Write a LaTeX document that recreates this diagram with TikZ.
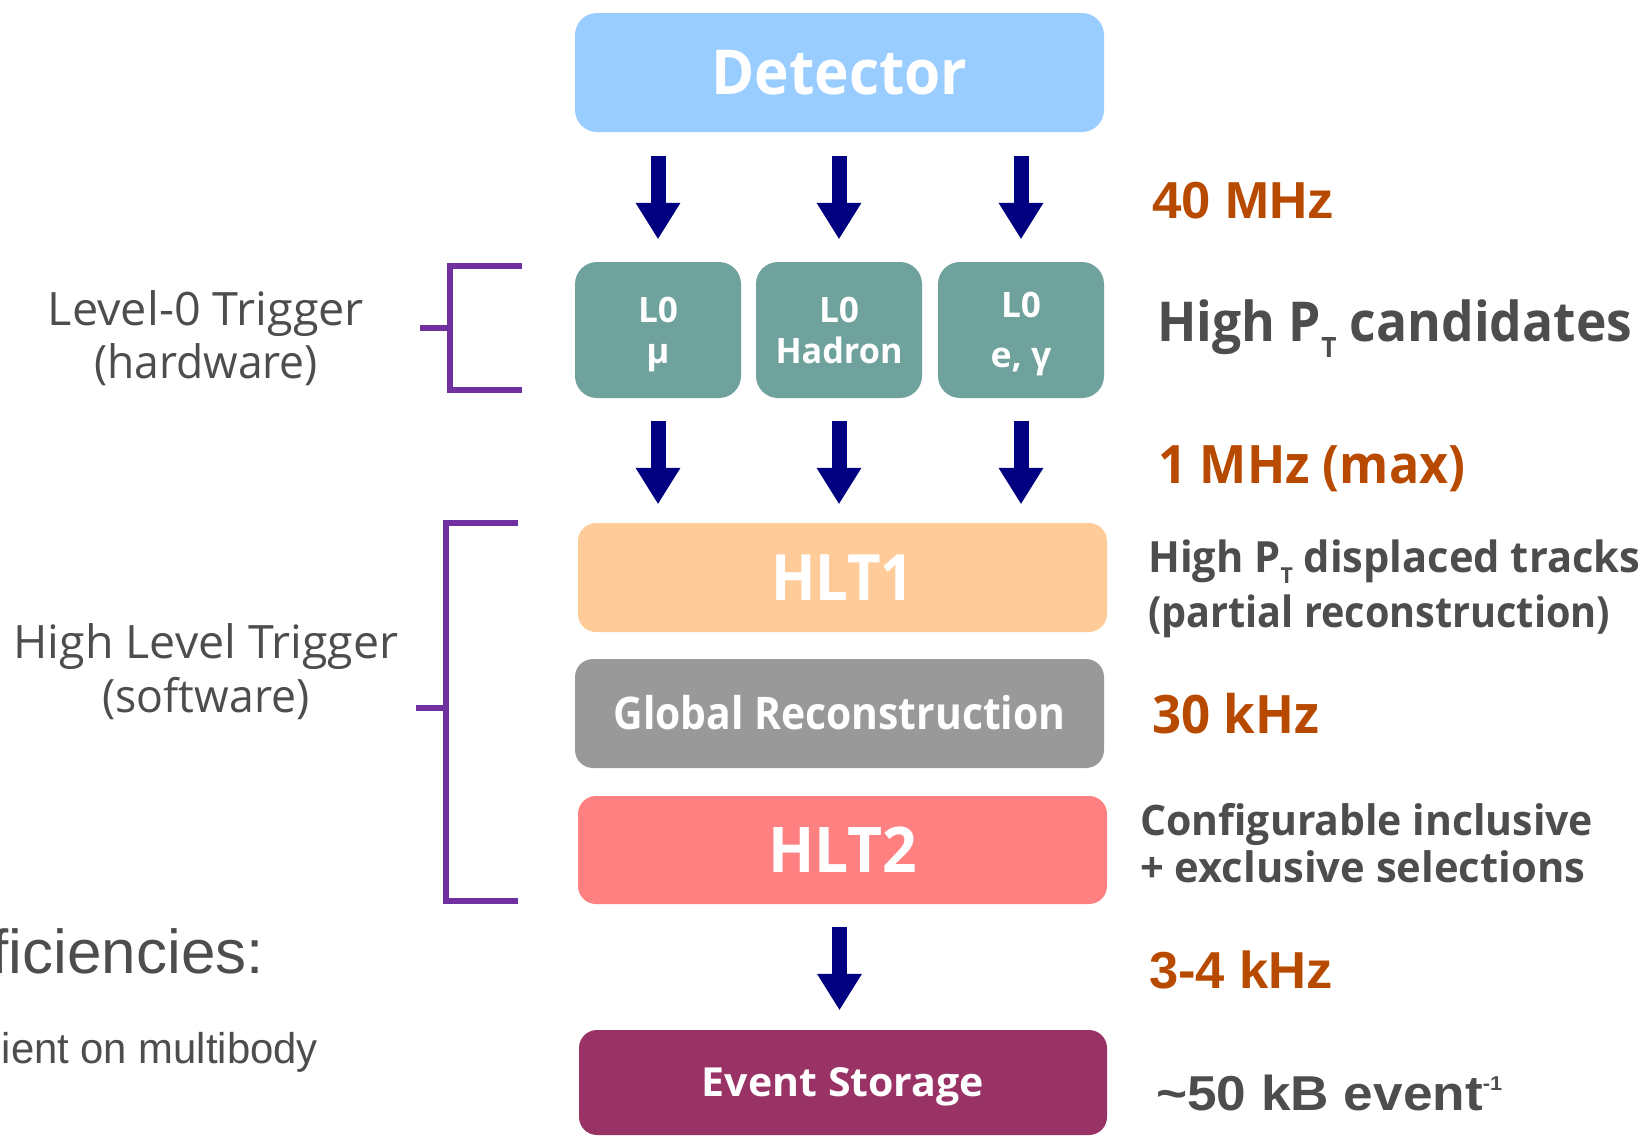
\documentclass[tikz,border=0pt]{standalone}
\usepackage{graphicx}
\usepackage{fontspec}
\setmainfont{Open Sans}
\newfontfamily\arialf{Liberation Sans}
\usetikzlibrary{arrows.meta}
\definecolor{detblue}{RGB}{153,204,255}
\definecolor{lzteal}{RGB}{111,162,156}
\definecolor{hltorange}{RGB}{255,204,153}
\definecolor{grgray}{RGB}{153,153,153}
\definecolor{hltred}{RGB}{255,128,128}
\definecolor{storeplum}{RGB}{153,51,102}
\definecolor{navyarrow}{RGB}{0,0,128}
\definecolor{brpurple}{RGB}{112,48,160}
\definecolor{rateorange}{RGB}{184,74,0}
\definecolor{txtgray}{RGB}{77,77,77}
\newcommand{\fsz}[1]{\fontsize{#1}{#1}\selectfont}
\newcommand{\fitw}[2]{\resizebox{#1}{\height}{#2}}
\begin{document}
\begin{tikzpicture}[x=1pt,y=-1pt,
  box/.style={rounded corners=20pt, text=white, inner sep=0pt, text depth=0pt, align=center},
  bigarrow/.style={draw=navyarrow, line width=15pt, -{Triangle[length=36pt,width=45pt,line width=0pt]}},
  bracketline/.style={draw=brpurple, line width=6.5pt},
  rtext/.style={anchor=base west, inner sep=0pt, text=txtgray},
  rate/.style={anchor=base west, inner sep=0pt, text=rateorange},
  ltext/.style={anchor=base, inner sep=0pt, text=txtgray, font=\fsz{46}}
]
\useasboundingbox (0,0) rectangle (1647,1136);
\clip (0,0) rectangle (1647,1136);

% boxes
\node[box, fill=detblue, minimum width=529pt, minimum height=119pt, rounded corners=22pt, text height=44pt, font=\bfseries\fsz{62}] (det) at (839.5,72.5) {\fitw{256pt}{Detector}};
\node[box, fill=lzteal, minimum width=166pt, minimum height=136pt, rounded corners=22pt, font=\bfseries\fontsize{35}{41}\selectfont] (l0a) at (658,330) {\fitw{40pt}{L0}\\μ};
\node[box, fill=lzteal, minimum width=166pt, minimum height=136pt, rounded corners=22pt, font=\bfseries\fontsize{35}{41}\selectfont] (l0b) at (839,330) {\fitw{40pt}{L0}\\\fitw{127pt}{Hadron}};
\node[box, fill=lzteal, minimum width=166pt, minimum height=136pt, rounded corners=22pt, font=\bfseries\fontsize{35}{50}\selectfont] (l0c) at (1021,330) {\fitw{40pt}{L0}\\\fitw{61pt}{e, γ}};
\node[box, fill=hltorange, minimum width=529pt, minimum height=109pt, rounded corners=18pt, text height=46pt, font=\bfseries\fsz{64}] (hlt1) at (842.5,577.5) {\fitw{143pt}{HLT1}};
\node[box, fill=grgray, minimum width=529pt, minimum height=109pt, rounded corners=18pt, text height=32pt, font=\bfseries\fsz{45}] (glob) at (839.5,713.5) {\fitw{452pt}{Global Reconstruction}};
\node[box, fill=hltred, minimum width=529pt, minimum height=108pt, rounded corners=18pt, text height=45pt, font=\bfseries\fsz{63}] (hlt2) at (842.5,850) {\fitw{149pt}{HLT2}};
\node[box, fill=storeplum, minimum width=528pt, minimum height=105pt, rounded corners=18pt, text height=28pt, font=\bfseries\fsz{40}] (store) at (843,1082.5) {\fitw{282pt}{Event Storage}};

% arrows
\draw[bigarrow, shorten <=24pt, shorten >=23pt] (det.south -| l0a.north) -- (l0a.north);
\draw[bigarrow, shorten <=24pt, shorten >=23pt] (det.south -| l0b.north) -- (l0b.north);
\draw[bigarrow, shorten <=24pt, shorten >=23pt] (det.south -| l0c.north) -- (l0c.north);
\draw[bigarrow, shorten <=23pt, shorten >=19pt] (l0a.south) -- (l0a.south |- hlt1.north);
\draw[bigarrow, shorten <=23pt, shorten >=19pt] (l0b.south) -- (l0b.south |- hlt1.north);
\draw[bigarrow, shorten <=23pt, shorten >=19pt] (l0c.south) -- (l0c.south |- hlt1.north);
\draw[bigarrow, shorten <=23pt, shorten >=20pt] (hlt2.south -| det.south) -- (store.north -| det.south);

% brackets
\draw[bracketline] (522,266) -| (450,390) -- (522,390);
\draw[bracketline] (420,328) -- (450,328);
\draw[bracketline] (518,523) -| (446,901) -- (518,901);
\draw[bracketline] (416,708) -- (446,708);

% left labels
\node[ltext] (lzlab) at (206,325) {\fitw{316pt}{Level-0 Trigger}};
\node[ltext] (lzlab2) at (206,378) {\fitw{224pt}{(hardware)}};
\node[ltext] (hltlab) at (206,658) {\fitw{385pt}{High Level Trigger}};
\node[ltext] (hltlab2) at (206,712) {\fitw{207pt}{(software)}};
\node[anchor=base east, inner sep=0pt, text=txtgray, font=\arialf\fsz{62}] (effic) at (264,973) {ficiencies:};
\node[anchor=base east, inner sep=0pt, text=txtgray, font=\arialf\fsz{43}] (multi) at (318,1063) {\fitw{316pt}{ient on multibody}};

% right labels
\node[rate, font=\arialf\bfseries\fsz{52}] (r40) at (1152,218) {\fitw{182pt}{40 MHz}};
\node[rtext, font=\bfseries\fsz{55}] (cand) at (1157,341) {\fitw{475pt}{High P\raisebox{-16pt}{\fsz{28}T} candidates}};
\node[rate, font=\bfseries\fsz{53}] (r1) at (1158,483) {\fitw{307pt}{1 MHz (max)}};
\node[rtext, font=\bfseries\fsz{43}] (disp) at (1148,572) {\fitw{492pt}{High P\raisebox{-11pt}{\fsz{22}T} displaced tracks}};
\node[rtext, font=\bfseries\fsz{43}] (part) at (1148,627) {\fitw{462pt}{(partial reconstruction)}};
\node[rate, font=\bfseries\fsz{53}] (r30) at (1152,733) {\fitw{167pt}{30 kHz}};
\node[rtext, font=\bfseries\fsz{42}] (conf) at (1140,835) {\fitw{453pt}{Configurable inclusive}};
\node[rtext, font=\bfseries\fsz{42}] (excl) at (1140,882) {\fitw{445pt}{+ exclusive selections}};
\node[rate, font=\arialf\bfseries\fsz{52}] (r34) at (1149,988) {\fitw{184pt}{3-4 kHz}};
\node[rtext, font=\arialf\bfseries\fsz{49}] (size) at (1156,1110) {\fitw{346pt}{{\char"7E}50 kB event\raisebox{20pt}{\fsz{20}-1}}};
\end{tikzpicture}
\end{document}
